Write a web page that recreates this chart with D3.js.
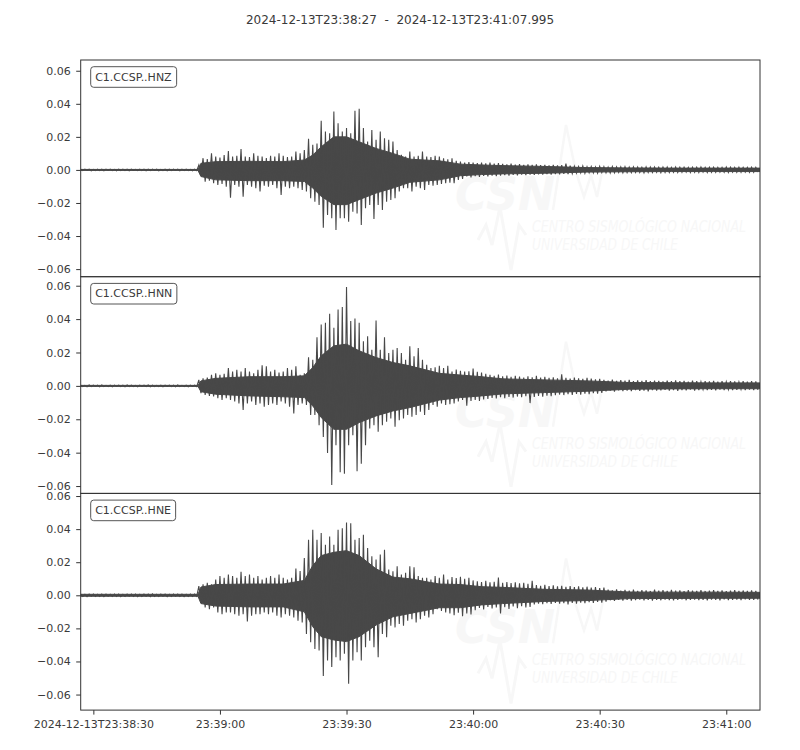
<!DOCTYPE html>
<html><head><meta charset="utf-8">
<script src="https://cdn.jsdelivr.net/npm/d3@7"></script>
<style>body{margin:0;background:#fff}svg{font-family:"DejaVu Sans",sans-serif}</style>
</head><body><svg id="c" width="800" height="750"></svg>
<script>
// ---------------- data ----------------
const titleText = "2024-12-13T23:38:27  -  2024-12-13T23:41:07.995";
const startTime = Date.UTC(2024, 11, 13, 23, 38, 27);
const durationMs = 160995;
const binSeconds = 1;
const channels = ["C1.CCSP..HNZ", "C1.CCSP..HNN", "C1.CCSP..HNE"];

// per-second max / min (spike extremes) (t = 0..160 s)
const hnzMax = [
0.0004,0.0005,0.0004,0.0003,0.0005,0.0004,0.0004,0.0005,0.0003,0.0004,
0.0005,0.0004,0.0004,0.0003,0.0005,0.0004,0.0004,0.0005,0.0004,0.0003,
0.0004,0.0005,0.0004,0.0004,0.0005,0.0004,0.0003,0.0005,0.0030,0.0071,
0.0065,0.0101,0.0081,0.0075,0.0090,0.0115,0.0081,0.0085,0.0127,0.0081,
0.0078,0.0101,0.0085,0.0081,0.0072,0.0085,0.0081,0.0101,0.0085,0.0078,
0.0081,0.0111,0.0101,0.0121,0.0188,0.0152,0.0160,0.0297,0.0232,0.0222,
0.0354,0.0283,0.0232,0.0253,0.0222,0.0358,0.0370,0.0253,0.0172,0.0242,
0.0182,0.0232,0.0192,0.0182,0.0172,0.0121,0.0091,0.0081,0.0111,0.0081,
0.0085,0.0111,0.0081,0.0078,0.0085,0.0081,0.0071,0.0065,0.0071,0.0055,
0.0050,0.0045,0.0048,0.0044,0.0042,0.0045,0.0040,0.0044,0.0038,0.0042,
0.0036,0.0034,0.0038,0.0032,0.0035,0.0031,0.0034,0.0030,0.0033,0.0029,
0.0031,0.0028,0.0030,0.0027,0.0029,0.0038,0.0026,0.0022,0.0020,0.0024,
0.0019,0.0021,0.0018,0.0022,0.0020,0.0017,0.0021,0.0019,0.0018,0.0020,
0.0017,0.0019,0.0018,0.0016,0.0019,0.0017,0.0018,0.0016,0.0018,0.0017,
0.0015,0.0018,0.0016,0.0017,0.0015,0.0017,0.0016,0.0018,0.0015,0.0016,
0.0017,0.0015,0.0016,0.0018,0.0016,0.0015,0.0017,0.0016,0.0015,0.0017,
0.0016];
const hnzMin = [
-0.0004,-0.0003,-0.0005,-0.0004,-0.0004,-0.0005,-0.0003,-0.0004,-0.0005,-0.0004,
-0.0004,-0.0005,-0.0003,-0.0004,-0.0004,-0.0005,-0.0004,-0.0003,-0.0005,-0.0004,
-0.0005,-0.0004,-0.0003,-0.0005,-0.0004,-0.0004,-0.0005,-0.0004,-0.0030,-0.0071,
-0.0065,-0.0081,-0.0091,-0.0085,-0.0101,-0.0168,-0.0091,-0.0101,-0.0162,-0.0091,
-0.0101,-0.0111,-0.0131,-0.0095,-0.0101,-0.0091,-0.0111,-0.0152,-0.0101,-0.0111,
-0.0101,-0.0111,-0.0121,-0.0131,-0.0172,-0.0192,-0.0212,-0.0350,-0.0273,-0.0293,
-0.0364,-0.0293,-0.0293,-0.0313,-0.0253,-0.0263,-0.0333,-0.0232,-0.0212,-0.0297,
-0.0212,-0.0242,-0.0192,-0.0182,-0.0172,-0.0131,-0.0111,-0.0111,-0.0131,-0.0101,
-0.0111,-0.0121,-0.0091,-0.0095,-0.0091,-0.0085,-0.0081,-0.0078,-0.0081,-0.0060,
-0.0055,-0.0040,-0.0045,-0.0038,-0.0042,-0.0036,-0.0040,-0.0034,-0.0038,-0.0035,
-0.0032,-0.0034,-0.0030,-0.0033,-0.0029,-0.0031,-0.0028,-0.0030,-0.0027,-0.0029,
-0.0026,-0.0028,-0.0025,-0.0027,-0.0024,-0.0026,-0.0023,-0.0020,-0.0018,-0.0021,
-0.0017,-0.0019,-0.0020,-0.0016,-0.0018,-0.0019,-0.0017,-0.0015,-0.0018,-0.0016,
-0.0017,-0.0015,-0.0016,-0.0018,-0.0015,-0.0016,-0.0014,-0.0017,-0.0015,-0.0016,
-0.0014,-0.0016,-0.0015,-0.0013,-0.0016,-0.0014,-0.0015,-0.0013,-0.0016,-0.0014,
-0.0015,-0.0013,-0.0014,-0.0016,-0.0013,-0.0015,-0.0014,-0.0013,-0.0015,-0.0014,
-0.0013];
const hnnMax = [
0.0004,0.0003,0.0005,0.0004,0.0004,0.0005,0.0003,0.0004,0.0005,0.0004,
0.0004,0.0005,0.0004,0.0003,0.0005,0.0004,0.0005,0.0004,0.0003,0.0004,
0.0005,0.0004,0.0004,0.0005,0.0003,0.0004,0.0005,0.0004,0.0036,0.0046,
0.0050,0.0066,0.0076,0.0066,0.0072,0.0107,0.0086,0.0096,0.0086,0.0107,
0.0086,0.0076,0.0096,0.0123,0.0117,0.0086,0.0096,0.0080,0.0086,0.0107,
0.0096,0.0117,0.0066,0.0076,0.0171,0.0157,0.0291,0.0368,0.0378,0.0432,
0.0348,0.0458,0.0472,0.0593,0.0388,0.0404,0.0378,0.0267,0.0297,0.0217,
0.0392,0.0217,0.0291,0.0197,0.0217,0.0227,0.0197,0.0157,0.0237,0.0177,
0.0227,0.0157,0.0127,0.0107,0.0111,0.0120,0.0107,0.0120,0.0086,0.0098,
0.0090,0.0086,0.0088,0.0104,0.0085,0.0080,0.0072,0.0066,0.0060,0.0068,
0.0058,0.0062,0.0054,0.0060,0.0056,0.0050,0.0058,0.0052,0.0060,0.0050,
0.0054,0.0048,0.0052,0.0046,0.0070,0.0048,0.0044,0.0050,0.0046,0.0042,
0.0048,0.0044,0.0040,0.0042,0.0036,0.0032,0.0038,0.0030,0.0034,0.0031,
0.0036,0.0029,0.0033,0.0030,0.0035,0.0028,0.0032,0.0030,0.0027,0.0031,
0.0029,0.0033,0.0028,0.0030,0.0026,0.0031,0.0028,0.0025,0.0029,0.0027,
0.0030,0.0026,0.0028,0.0025,0.0029,0.0027,0.0024,0.0028,0.0026,0.0029,
0.0027];
const hnnMin = [
-0.0004,-0.0005,-0.0004,-0.0003,-0.0005,-0.0004,-0.0004,-0.0005,-0.0003,-0.0004,
-0.0005,-0.0004,-0.0004,-0.0005,-0.0003,-0.0004,-0.0005,-0.0004,-0.0004,-0.0005,
-0.0003,-0.0004,-0.0005,-0.0004,-0.0004,-0.0005,-0.0003,-0.0004,-0.0044,-0.0054,
-0.0060,-0.0064,-0.0074,-0.0084,-0.0074,-0.0084,-0.0094,-0.0105,-0.0145,-0.0105,
-0.0094,-0.0115,-0.0105,-0.0125,-0.0115,-0.0105,-0.0115,-0.0094,-0.0105,-0.0125,
-0.0165,-0.0115,-0.0105,-0.0115,-0.0175,-0.0175,-0.0235,-0.0306,-0.0402,-0.0593,
-0.0356,-0.0517,-0.0527,-0.0356,-0.0295,-0.0511,-0.0466,-0.0356,-0.0255,-0.0235,
-0.0275,-0.0235,-0.0215,-0.0195,-0.0245,-0.0205,-0.0195,-0.0175,-0.0185,-0.0175,
-0.0155,-0.0175,-0.0145,-0.0115,-0.0125,-0.0105,-0.0115,-0.0110,-0.0105,-0.0094,
-0.0084,-0.0119,-0.0090,-0.0085,-0.0090,-0.0082,-0.0078,-0.0072,-0.0076,-0.0068,
-0.0074,-0.0066,-0.0070,-0.0064,-0.0068,-0.0062,-0.0103,-0.0066,-0.0060,-0.0064,
-0.0058,-0.0062,-0.0056,-0.0052,-0.0055,-0.0050,-0.0054,-0.0048,-0.0052,-0.0046,
-0.0050,-0.0044,-0.0047,-0.0042,-0.0033,-0.0029,-0.0035,-0.0027,-0.0031,-0.0028,
-0.0032,-0.0026,-0.0030,-0.0028,-0.0033,-0.0025,-0.0029,-0.0027,-0.0024,-0.0028,
-0.0026,-0.0030,-0.0025,-0.0027,-0.0023,-0.0028,-0.0025,-0.0022,-0.0026,-0.0024,
-0.0027,-0.0023,-0.0025,-0.0022,-0.0026,-0.0024,-0.0021,-0.0025,-0.0023,-0.0026,
-0.0024];
const hneMax = [
0.0007,0.0006,0.0007,0.0008,0.0006,0.0007,0.0007,0.0006,0.0008,0.0007,
0.0006,0.0007,0.0008,0.0007,0.0006,0.0007,0.0007,0.0008,0.0006,0.0007,
0.0007,0.0006,0.0008,0.0007,0.0007,0.0006,0.0007,0.0008,0.0056,0.0066,
0.0076,0.0066,0.0096,0.0116,0.0106,0.0126,0.0116,0.0106,0.0142,0.0116,
0.0126,0.0106,0.0116,0.0096,0.0106,0.0116,0.0106,0.0126,0.0106,0.0096,
0.0106,0.0162,0.0146,0.0226,0.0336,0.0396,0.0336,0.0376,0.0306,0.0356,
0.0306,0.0396,0.0406,0.0440,0.0436,0.0336,0.0346,0.0366,0.0286,0.0236,
0.0216,0.0246,0.0276,0.0156,0.0146,0.0176,0.0126,0.0136,0.0176,0.0170,
0.0116,0.0106,0.0106,0.0096,0.0116,0.0106,0.0126,0.0096,0.0110,0.0104,
0.0112,0.0100,0.0106,0.0090,0.0084,0.0080,0.0088,0.0078,0.0082,0.0108,
0.0076,0.0080,0.0074,0.0078,0.0072,0.0076,0.0070,0.0088,0.0062,0.0058,
0.0064,0.0056,0.0060,0.0054,0.0058,0.0052,0.0056,0.0050,0.0054,0.0048,
0.0052,0.0046,0.0050,0.0044,0.0046,0.0034,0.0030,0.0036,0.0028,0.0033,
0.0029,0.0035,0.0027,0.0032,0.0030,0.0026,0.0034,0.0029,0.0031,0.0027,
0.0033,0.0028,0.0030,0.0025,0.0032,0.0029,0.0027,0.0031,0.0026,0.0029,
0.0032,0.0027,0.0030,0.0025,0.0028,0.0031,0.0026,0.0029,0.0027,0.0030,
0.0026];
const hneMin = [
-0.0007,-0.0008,-0.0006,-0.0007,-0.0007,-0.0008,-0.0006,-0.0007,-0.0007,-0.0008,
-0.0007,-0.0006,-0.0007,-0.0008,-0.0007,-0.0006,-0.0008,-0.0007,-0.0007,-0.0006,
-0.0008,-0.0007,-0.0006,-0.0007,-0.0008,-0.0007,-0.0007,-0.0006,-0.0044,-0.0074,
-0.0084,-0.0074,-0.0104,-0.0114,-0.0104,-0.0104,-0.0114,-0.0124,-0.0114,-0.0158,
-0.0124,-0.0114,-0.0114,-0.0104,-0.0114,-0.0104,-0.0124,-0.0134,-0.0114,-0.0124,
-0.0134,-0.0154,-0.0164,-0.0234,-0.0284,-0.0324,-0.0334,-0.0488,-0.0394,-0.0434,
-0.0374,-0.0394,-0.0354,-0.0534,-0.0394,-0.0344,-0.0394,-0.0314,-0.0274,-0.0314,
-0.0374,-0.0234,-0.0254,-0.0184,-0.0194,-0.0174,-0.0184,-0.0154,-0.0144,-0.0164,
-0.0144,-0.0124,-0.0134,-0.0114,-0.0084,-0.0094,-0.0104,-0.0110,-0.0120,-0.0106,
-0.0126,-0.0110,-0.0116,-0.0090,-0.0076,-0.0086,-0.0070,-0.0080,-0.0074,-0.0110,
-0.0072,-0.0082,-0.0068,-0.0078,-0.0066,-0.0074,-0.0070,-0.0056,-0.0050,-0.0054,
-0.0048,-0.0052,-0.0046,-0.0050,-0.0047,-0.0055,-0.0046,-0.0050,-0.0044,-0.0048,
-0.0042,-0.0046,-0.0040,-0.0044,-0.0038,-0.0030,-0.0034,-0.0028,-0.0033,-0.0027,
-0.0032,-0.0029,-0.0026,-0.0031,-0.0028,-0.0033,-0.0027,-0.0030,-0.0026,-0.0029,
-0.0031,-0.0027,-0.0025,-0.0030,-0.0028,-0.0026,-0.0029,-0.0027,-0.0031,-0.0026,
-0.0028,-0.0030,-0.0025,-0.0029,-0.0027,-0.0026,-0.0029,-0.0025,-0.0028,-0.0027,
-0.0026];

// extent of the solid (dense) band of each trace, read at these times (s)
const coreTimes = [0, 27.8, 28.5, 32, 40, 48, 53, 55, 57, 60, 63, 66, 70, 74, 78, 85, 90, 95, 100, 110, 120, 130, 140, 150, 161];
const hnzCoreUp = [0.0003,0.0003,0.0040,0.0050,0.0052,0.0050,0.0060,0.0090,0.0140,0.0200,0.0200,0.0170,0.0130,0.0100,0.0065,0.0055,0.0035,0.0030,0.0026,0.0021,0.0014,0.0012,0.0011,0.0011,0.0011];
const hnzCoreLo = [-0.0003,-0.0003,-0.0040,-0.0060,-0.0065,-0.0065,-0.0070,-0.0110,-0.0160,-0.0210,-0.0210,-0.0180,-0.0140,-0.0110,-0.0075,-0.0060,-0.0035,-0.0028,-0.0024,-0.0020,-0.0013,-0.0011,-0.0010,-0.0010,-0.0010];
const hnnCoreUp = [0.0003,0.0003,0.0030,0.0045,0.0055,0.0055,0.0060,0.0110,0.0180,0.0240,0.0250,0.0210,0.0170,0.0140,0.0120,0.0075,0.0065,0.0055,0.0042,0.0036,0.0030,0.0020,0.0019,0.0018,0.0018];
const hnnCoreLo = [-0.0003,-0.0003,-0.0035,-0.0050,-0.0060,-0.0065,-0.0070,-0.0120,-0.0190,-0.0260,-0.0260,-0.0220,-0.0180,-0.0150,-0.0130,-0.0085,-0.0070,-0.0060,-0.0048,-0.0040,-0.0032,-0.0020,-0.0018,-0.0017,-0.0017];
const hneCoreUp = [0.0006,0.0006,0.0050,0.0065,0.0068,0.0068,0.0090,0.0180,0.0240,0.0260,0.0270,0.0240,0.0160,0.0110,0.0100,0.0068,0.0065,0.0052,0.0048,0.0036,0.0032,0.0020,0.0019,0.0019,0.0018];
const hneCoreLo = [-0.0006,-0.0006,-0.0050,-0.0065,-0.0070,-0.0070,-0.0100,-0.0190,-0.0250,-0.0270,-0.0280,-0.0250,-0.0180,-0.0130,-0.0110,-0.0075,-0.0075,-0.0058,-0.0050,-0.0037,-0.0032,-0.0020,-0.0019,-0.0018,-0.0018];

const yDomains = [[-0.0646, 0.0665], [-0.0644, 0.0654], [-0.0694, 0.0616]];
const yTickValues = [-0.06, -0.04, -0.02, 0, 0.02, 0.04, 0.06];
const xTickSeconds = [3, 33, 63, 93, 123, 153];
const xTickLabels = ["2024-12-13T23:38:30", "23:39:00", "23:39:30", "23:40:00", "23:40:30", "23:41:00"];
const watermarkLines = ["CENTRO SISMOLÓGICO NACIONAL", "UNIVERSIDAD DE CHILE"];

// ---------------- layout ----------------
const traces = [
  { name: channels[0], max: hnzMax, min: hnzMin, cu: hnzCoreUp, cl: hnzCoreLo },
  { name: channels[1], max: hnnMax, min: hnnMin, cu: hnnCoreUp, cl: hnnCoreLo },
  { name: channels[2], max: hneMax, min: hneMin, cu: hneCoreUp, cl: hneCoreLo }
];
const left = 80.7, right = 760, top0 = 60, panelH = 216.7;
const traceColor = "#484848", frameColor = "#333", textColor = "#3a3a3a", wmColor = "#f7f7f7";

const svg = d3.select("#c");
svg.append("rect").attr("width", 800).attr("height", 750).attr("fill", "#fff");

const x = d3.scaleUtc()
  .domain([new Date(startTime), new Date(startTime + durationMs)])
  .range([left, right]);
const tAt = s => new Date(startTime + s * 1000);

svg.append("text")
  .attr("x", 400).attr("y", 24)
  .attr("text-anchor", "middle")
  .attr("font-size", 12).attr("fill", textColor)
  .attr("xml:space", "preserve")
  .style("white-space", "pre")
  .text(titleText);

const defs = svg.append("defs");

traces.forEach((tr, i) => {
  const py = top0 + i * panelH;
  const y = d3.scaleLinear().domain(yDomains[i]).range([py + panelH, py]);
  const g = svg.append("g");

  defs.append("clipPath").attr("id", "clip" + i)
    .append("rect").attr("x", left).attr("y", py).attr("width", right - left).attr("height", panelH);

  // faint watermark (CSN logo)
  const wm = g.append("g").attr("fill", wmColor).attr("stroke", "none");
  wm.append("text").attr("x", 455).attr("y", py + 150)
    .attr("font-size", 46).attr("font-weight", "bold").attr("font-style", "italic")
    .attr("textLength", 100).attr("lengthAdjust", "spacingAndGlyphs").text("CSN");
  wm.append("polyline")
    .attr("points", [[553, py + 150], [566, py + 65], [576, py + 112], [584, py + 137], [591, py + 115], [597, py + 137], [603, py + 107]].join(" "))
    .attr("fill", "none").attr("stroke", wmColor).attr("stroke-width", 2.5);
  wm.append("polyline")
    .attr("points", [[478, py + 180], [486, py + 165], [492, py + 185], [500, py + 147], [511, py + 210], [519, py + 165], [526, py + 175]].join(" "))
    .attr("fill", "none").attr("stroke", wmColor).attr("stroke-width", 3);
  wm.append("text").attr("x", 532).attr("y", py + 172)
    .attr("font-size", 16).attr("font-style", "italic").attr("font-family", "Liberation Sans Narrow, DejaVu Sans Condensed, sans-serif")
    .attr("textLength", 214).attr("lengthAdjust", "spacingAndGlyphs").text(watermarkLines[0]);
  wm.append("text").attr("x", 532).attr("y", py + 190)
    .attr("font-size", 16).attr("font-style", "italic").attr("font-family", "Liberation Sans Narrow, DejaVu Sans Condensed, sans-serif")
    .attr("textLength", 146).attr("lengthAdjust", "spacingAndGlyphs").text(watermarkLines[1]);

  // waveform: dense band + per-second extremes drawn as a min/max zig-zag
  const wave = g.append("g").attr("clip-path", "url(#clip" + i + ")");
  wave.append("path")
    .attr("d", d3.area()
      .x((d, k) => x(tAt(coreTimes[k])))
      .y0((d, k) => y(tr.cl[k]))
      .y1((d, k) => y(tr.cu[k]))(coreTimes))
    .attr("fill", traceColor).attr("stroke", traceColor).attr("stroke-width", 1);
  const pts = [];
  tr.max.forEach((v, k) => {
    pts.push([x(tAt(k * binSeconds)), y(v)]);
    pts.push([x(tAt((k + 0.5) * binSeconds)), y(tr.min[k])]);
  });
  wave.append("path")
    .attr("d", d3.line()(pts))
    .attr("fill", "none").attr("stroke", traceColor).attr("stroke-width", 1.1);

  // frame
  g.append("rect").attr("x", left).attr("y", py).attr("width", right - left).attr("height", panelH)
    .attr("fill", "none").attr("stroke", frameColor).attr("stroke-width", 1);

  // y axis
  const ya = g.append("g").attr("transform", `translate(${left},0)`)
    .call(d3.axisLeft(y).tickValues(yTickValues).tickSize(4.5).tickPadding(5.5)
      .tickFormat(v => d3.format(".2f")(v).replace("-", "\u2212")));
  ya.select(".domain").remove();
  ya.selectAll("line").attr("stroke", frameColor);
  ya.selectAll("text").attr("font-size", 11).attr("fill", textColor).attr("font-family", "DejaVu Sans");

  // label box
  const lab = g.append("g");
  const txt = lab.append("text").attr("x", left + 14.5).attr("y", py + 20.5)
    .attr("font-size", 11).attr("fill", textColor).text(tr.name);
  const bb = txt.node().getBBox();
  lab.insert("rect", "text")
    .attr("x", bb.x - 4.5).attr("y", py + 6.7)
    .attr("width", bb.width + 9).attr("height", 20.6)
    .attr("rx", 3).attr("fill", "#fff").attr("stroke", "#555").attr("stroke-width", 1);

  if (i === traces.length - 1) {
    const xa = g.append("g").attr("transform", `translate(0,${py + panelH})`)
      .call(d3.axisBottom(x).tickValues(xTickSeconds.map(tAt)).tickSize(4.5).tickPadding(5.5)
        .tickFormat((d, k) => xTickLabels[k]));
    xa.select(".domain").remove();
    xa.selectAll("line").attr("stroke", frameColor);
    xa.selectAll("text").attr("font-size", 11).attr("fill", textColor).attr("font-family", "DejaVu Sans");
  }
});
</script></body></html>
